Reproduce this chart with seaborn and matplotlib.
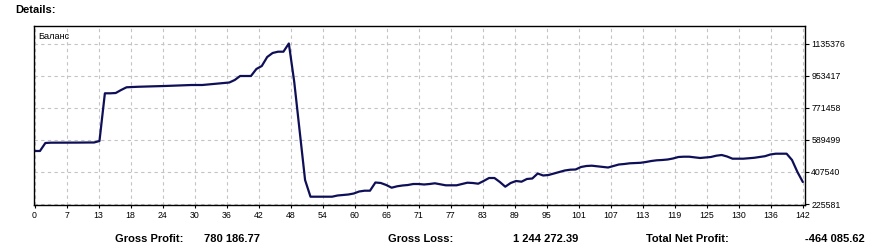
import numpy as np
import pandas as pd
import matplotlib
matplotlib.use("Agg")
import matplotlib.pyplot as plt
import seaborn as sns

# Balance curve
balance = [
    527.0, 527.0, 572.4, 574.2, 574.2, 574.2, 574.2, 574.7, 574.7, 575.3,
    575.3, 575.3, 583.8, 855.0, 855.0, 856.7, 873.8, 889.2, 890.9, 892.0,
    893.1, 893.7, 894.8, 895.4, 896.5, 897.7, 898.8, 899.9, 901.1, 902.2,
    902.2, 902.2, 905.1, 907.9, 911.3, 913.6, 916.4, 930.7, 953.4, 953.4,
    953.4, 993.2, 1010.3, 1061.4, 1084.2, 1091.6, 1091.6, 1138.2, 919.3, 640.7,
    362.1, 267.1, 267.1, 267.1, 267.1, 267.1, 273.9, 276.8, 279.6, 285.3,
    296.7, 301.2, 301.2, 347.8, 345.0, 333.6, 318.3, 326.2, 330.8, 333.6,
    339.3, 339.3, 336.5, 339.3, 343.3, 337.6, 331.9, 331.9, 331.9, 339.3,
    346.7, 345.0, 341.0, 356.4, 373.4, 373.4, 350.7, 324.0, 345.0, 356.4,
    352.4, 367.8, 370.6, 399.0, 387.7, 390.5, 399.0, 407.6, 416.1, 420.6,
    421.8, 436.0, 441.7, 443.4, 440.0, 436.0, 433.1, 441.7, 450.2, 453.0,
    457.0, 458.7, 459.9, 464.4, 470.1, 474.1, 475.8, 478.6, 484.3, 492.8,
    494.5, 494.5, 491.1, 487.2, 490.0, 492.8, 500.2, 504.2, 495.7, 483.2,
    483.2, 483.2, 485.5, 488.3, 492.8, 497.4, 507.1, 511.6, 511.6, 511.6,
    475.8, 407.6, 350.7,
]
balance = [v * 1000 for v in balance]
trade_index = list(range(len(balance)))

x_tick_labels = ["0", "7", "13", "18", "24", "30", "36", "42", "48", "54", "60",
                 "66", "71", "77", "83", "89", "95", "101", "107", "113", "119",
                 "125", "130", "136", "142"]
y_ticks = [225581, 407540, 589499, 771458, 953417, 1135376]

series_label = "Баланс"
summary_labels = ["Gross Profit:", "Gross Loss:", "Total Net Profit:"]
summary_values = ["780 186.77", "1 244 272.39", "-464 085.62"]

sns.set_theme(style="white")
plt.rcParams["font.family"] = ["Liberation Sans", "DejaVu Sans"]

df = pd.DataFrame({"trade": trade_index, "balance": balance})

fig = plt.figure(figsize=(8.73, 2.48), dpi=100)
fig.patch.set_facecolor("white")
ax = fig.add_axes([34 / 873, 1 - 205 / 248, (805 - 34) / 873, (205 - 26) / 248])

sns.lineplot(data=df, x="trade", y="balance", ax=ax, color="#0f0f58",
             linewidth=1.6, legend=False)

ax.set_xlim(-0.1, 142.4)
ax.set_ylim(219895, 1237700)

xt = np.linspace(0, 142, len(x_tick_labels))
ax.set_xticks(xt)
ax.set_xticklabels(x_tick_labels)
ax.set_yticks(y_ticks)
ax.set_yticklabels([str(v) for v in y_ticks])
ax.yaxis.tick_right()
ax.tick_params(axis="both", which="both", direction="out", length=3, width=0.8,
               colors="black", labelsize=6.3, pad=1.5)
ax.tick_params(axis="x", bottom=True, length=2.5)
ax.tick_params(axis="y", right=True, left=False)

ax.grid(True, color="#c4c4c4", linestyle=(0, (3, 3)), linewidth=0.8)
for s in ax.spines.values():
    s.set_color("black")
    s.set_linewidth(1.0)
    s.set_visible(True)
ax.set_xlabel("")
ax.set_ylabel("")

ax.text(0.005, 0.965, series_label, transform=ax.transAxes, ha="left", va="top",
        fontsize=6.6, color="black")

fig.text(15 / 873, 1 - 10 / 248, "Details:", ha="left", va="center",
         fontsize=8, fontweight="bold", color="black")

label_x = [115, 388, 646]
value_x = [204, 513, 865]
value_ha = ["left", "left", "right"]
ty = 1 - 239 / 248
for lab, val, lx, vx, ha in zip(summary_labels, summary_values, label_x, value_x, value_ha):
    fig.text(lx / 873, ty, lab, ha="left", va="center", fontsize=8,
             fontweight="bold", color="black")
    fig.text(vx / 873, ty, val, ha=ha, va="center", fontsize=8,
             fontweight="bold", color="black")

fig.savefig("out.png", dpi=100, facecolor="white")
